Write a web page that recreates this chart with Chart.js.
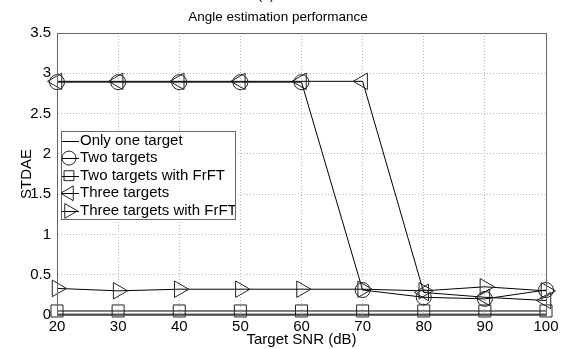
<!DOCTYPE html>
<html>
<head>
<meta charset="utf-8">
<script src="https://cdn.jsdelivr.net/npm/chart.js@4"></script>
<style>
  body { margin: 0; background: #fff; }
  canvas { display: block; }
</style>
</head>
<body>
<canvas id="myChart" width="569" height="349"></canvas>
<script>
// Data
var snr = [20, 30, 40, 50, 60, 70, 80, 90, 100];
var oneTarget = [0.01, 0.01, 0.01, 0.01, 0.01, 0.01, 0.01, 0.01, 0.01];
var twoTargets = [2.89, 2.89, 2.89, 2.89, 2.89, 0.31, 0.22, 0.20, 0.31];
var twoTargetsFrFT = [0.05, 0.05, 0.05, 0.05, 0.05, 0.05, 0.05, 0.05, 0.05];
var threeTargets = [2.9, 2.9, 2.9, 2.9, 2.9, 2.9, 0.28, 0.22, 0.18];
var threeTargetsFrFT = [0.33, 0.30, 0.32, 0.32, 0.32, 0.32, 0.30, 0.35, 0.30];
var seriesNames = ['Only one target', 'Two targets', 'Two targets with FrFT', 'Three targets', 'Three targets with FrFT'];
var xTickLabels = ['20', '30', '40', '50', '60', '70', '80', '90', '100'];
var yTickLabels = ['0', '0.5', '1', '1.5', '2', '2.5', '3', '3.5'];

var FONT = 'Liberation Sans, Arial, sans-serif';

function toPoints(ys) {
  return snr.map(function(x, i) { return { x: x, y: ys[i] }; });
}

function makeSet(label, ys, style, radius, rotation) {
  return {
    label: label,
    data: toPoints(ys),
    borderColor: '#000',
    borderWidth: 1,
    pointStyle: style,
    pointRadius: style ? radius : 0,
    pointHoverRadius: style ? radius : 0,
    pointRotation: rotation || 0,
    pointBorderColor: '#222',
    pointBorderWidth: 1,
    pointBackgroundColor: 'rgba(0,0,0,0)',
    tension: 0,
    fill: false
  };
}

// draw a marker for the legend box
function drawMarker(ctx, style, x, y, r, rot) {
  ctx.beginPath();
  if (style === 'circle') {
    ctx.arc(x, y, r, 0, Math.PI * 2);
  } else if (style === 'rect') {
    var s = r * Math.SQRT1_2;
    ctx.rect(x - s, y - s, s * 2, s * 2);
  } else if (style === 'triangle') {
    var a = rot * Math.PI / 180;
    for (var k = 0; k < 3; k++) {
      var px = x + Math.sin(a) * r, py = y - Math.cos(a) * r;
      if (k === 0) ctx.moveTo(px, py); else ctx.lineTo(px, py);
      a += Math.PI * 2 / 3;
    }
    ctx.closePath();
  }
  ctx.stroke();
}

var matlabLook = {
  id: 'matlabLook',
  afterDraw: function(chart) {
    var ctx = chart.ctx;
    var area = chart.chartArea;
    ctx.save();
    // axes box
    ctx.strokeStyle = '#666';
    ctx.lineWidth = 1;
    ctx.strokeRect(Math.round(area.left) + 0.5, Math.round(area.top) + 0.5,
      Math.round(area.right - area.left), Math.round(area.bottom - area.top));

    // titles
    ctx.fillStyle = '#000';
    ctx.textAlign = 'center';
    ctx.textBaseline = 'middle';
    ctx.font = '13.5px ' + FONT;
    ctx.fillText('(a)', 266, -5);
    ctx.fillText('Angle estimation performance', 278, 17);

    // legend box in the top-left of the plot
    var bx = 61, by = 131, bw = 174, bh = 88;
    ctx.fillStyle = '#fff';
    ctx.fillRect(bx, by, bw, bh);
    ctx.strokeStyle = '#666';
    ctx.strokeRect(bx + 0.5, by + 0.5, bw, bh);
    ctx.beginPath();
    ctx.rect(bx, by, bw, bh);
    ctx.clip();
    chart.data.datasets.forEach(function(ds, i) {
      var y = by + 9.5 + i * 17.6;
      ctx.strokeStyle = '#000';
      ctx.lineWidth = 1;
      ctx.beginPath();
      ctx.moveTo(bx + 1, Math.round(y) + 0.5);
      ctx.lineTo(bx + 18, Math.round(y) + 0.5);
      ctx.stroke();
      if (ds.pointStyle) {
        ctx.strokeStyle = '#222';
        var r = ds.pointStyle === 'triangle' ? 8.5 : 7;
        drawMarker(ctx, ds.pointStyle, bx + 8, y, r, ds.pointRotation);
      }
      ctx.fillStyle = '#000';
      ctx.textAlign = 'left';
      ctx.textBaseline = 'middle';
      ctx.font = '15px ' + FONT;
      ctx.fillText(seriesNames[i], bx + 19, y);
    });
    ctx.restore();
  }
};

var gridStyle = {
  color: '#b8b8b8',
  lineWidth: 1,
  drawTicks: false
};
var dottedBorder = { display: true, color: 'rgba(0,0,0,0)', dash: [1, 2] };

var ctx = document.getElementById('myChart').getContext('2d');
var myChart = new Chart(ctx, {
  type: 'line',
  data: {
    datasets: [
      makeSet(seriesNames[0], oneTarget, false, 0),
      makeSet(seriesNames[1], twoTargets, 'circle', 7.5),
      makeSet(seriesNames[2], twoTargetsFrFT, 'rect', 8.5),
      makeSet(seriesNames[3], threeTargets, 'triangle', 9.5, -90),
      makeSet(seriesNames[4], threeTargetsFrFT, 'triangle', 9.5, 90)
    ]
  },
  options: {
    responsive: false,
    devicePixelRatio: 1,
    animation: false,
    clip: false,
    layout: { padding: { top: 33, right: 23, left: 0, bottom: 0 } },
    plugins: {
      legend: { display: false },
      title: { display: false },
      tooltip: { enabled: false }
    },
    scales: {
      x: {
        type: 'linear',
        min: 20,
        max: 100,
        border: dottedBorder,
        grid: gridStyle,
        ticks: {
          stepSize: 10,
          color: '#000',
          padding: 3,
          maxRotation: 0,
          font: { family: FONT, size: 15 },
          callback: function(v) { return xTickLabels[snr.indexOf(v)]; }
        },
        title: {
          display: true,
          text: 'Target SNR (dB)',
          color: '#000',
          font: { family: FONT, size: 15 },
          padding: { top: 0, bottom: 0 }
        },
        afterFit: function(scale) { scale.height = 34; }
      },
      y: {
        min: 0,
        max: 3.5,
        border: dottedBorder,
        grid: gridStyle,
        ticks: {
          stepSize: 0.5,
          color: '#000',
          padding: 6,
          font: { family: FONT, size: 15 },
          callback: function(v, i) { return yTickLabels[i]; }
        },
        title: {
          display: true,
          text: 'STDAE',
          color: '#000',
          font: { family: FONT, size: 15 },
          padding: { top: 18, bottom: 0 }
        },
        afterFit: function(scale) { scale.width = 57; }
      }
    }
  },
  plugins: [matlabLook]
});
</script>
</body>
</html>
